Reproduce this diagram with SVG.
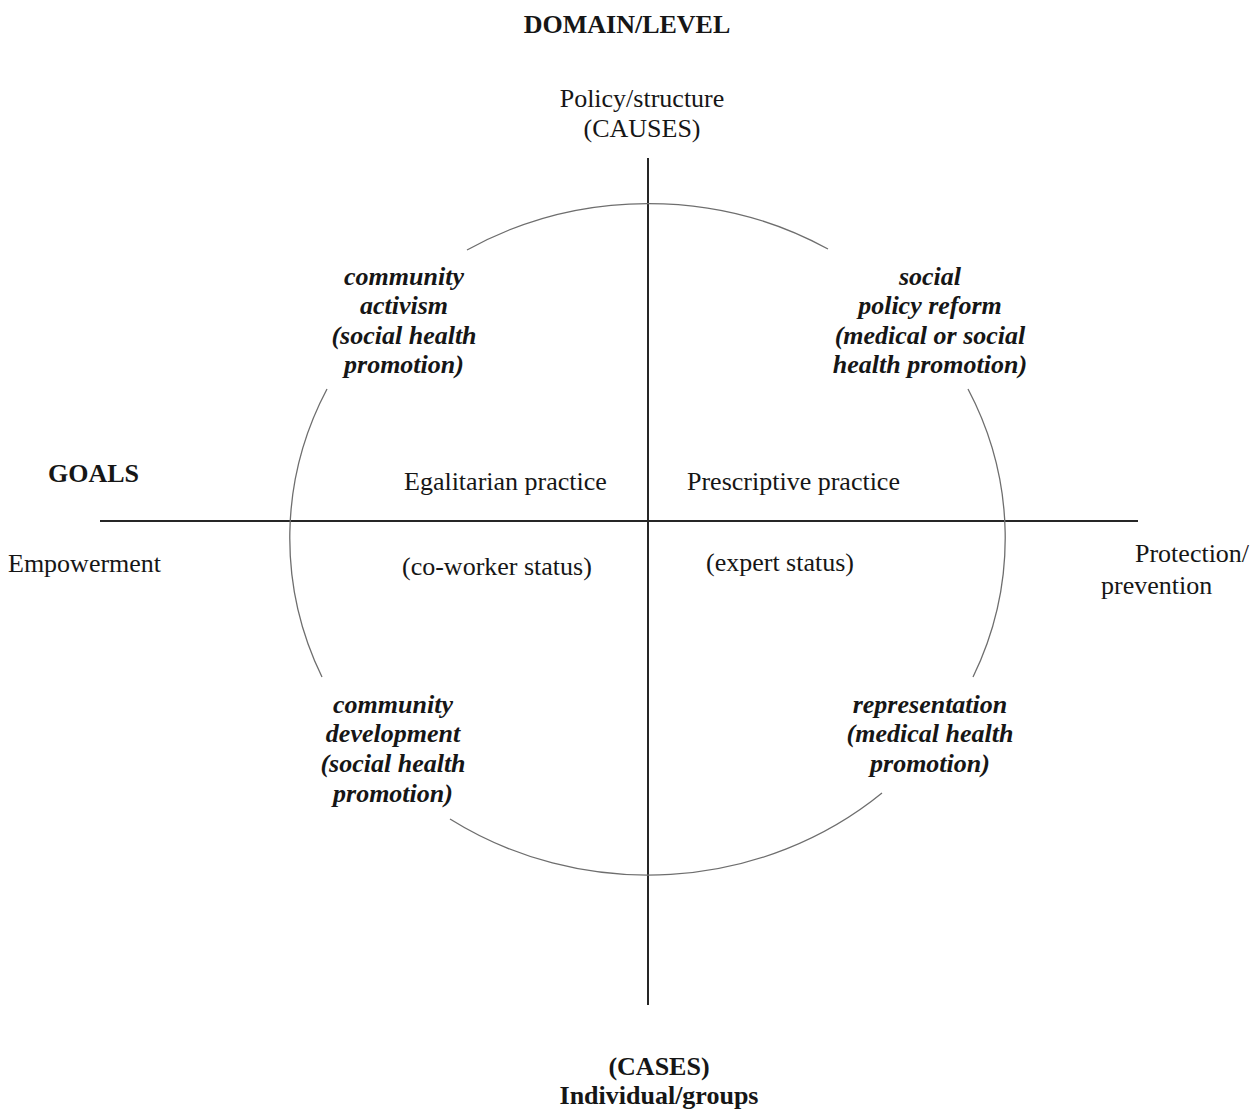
<svg xmlns="http://www.w3.org/2000/svg" width="1252" height="1111" viewBox="0 0 1252 1111">
  <style>
    text { font-family: "Liberation Serif", "Times New Roman", serif; font-size: 26px; fill: #161616; }
    .b { font-weight: bold; }
    .bi { font-weight: bold; font-style: italic; }
    .c { text-anchor: middle; }
    .axis { stroke: #262626; stroke-width: 2; fill: none; }
    .arc { stroke: #6e6e6e; stroke-width: 1.3; fill: none; }
  </style>
  <rect width="1252" height="1111" fill="#ffffff"/>

  <!-- axes and the broken circle -->
  <g id="connectors">
    <line class="axis" x1="648" y1="158" x2="648" y2="1005"/>
    <line class="axis" x1="100" y1="521" x2="1138" y2="521"/>
    <path class="arc" d="M467,250 A357,335 0 0,1 828,249"/>
    <path class="arc" d="M327,389 A357,335 0 0,0 322,677"/>
    <path class="arc" d="M968,389 A357,335 0 0,1 973,677"/>
    <path class="arc" d="M450,819 A357,335 0 0,0 882,793"/>
  </g>

  <g id="domain-title">
    <text class="b c" x="627" y="33">DOMAIN/LEVEL</text>
  </g>
  <g id="policy-structure">
    <text class="c" x="642" y="107">Policy/structure</text>
    <text class="c" x="642" y="137">(CAUSES)</text>
  </g>
  <g id="individual-groups">
    <text class="b c" x="659" y="1075">(CASES)</text>
    <text class="b c" x="659" y="1104">Individual/groups</text>
  </g>
  <g id="goals-title">
    <text class="b" x="48" y="482">GOALS</text>
  </g>
  <g id="empowerment">
    <text x="8" y="572">Empowerment</text>
  </g>
  <g id="protection-prevention">
    <text x="1135" y="562">Protection/</text>
    <text x="1101" y="594">prevention</text>
  </g>
  <g id="egalitarian-practice">
    <text x="404" y="490">Egalitarian practice</text>
    <text x="402" y="575">(co-worker status)</text>
  </g>
  <g id="prescriptive-practice">
    <text x="687" y="490">Prescriptive practice</text>
    <text x="706" y="571">(expert status)</text>
  </g>
  <g id="community-activism">
    <text class="bi c" x="404" y="285">community</text>
    <text class="bi c" x="404" y="314">activism</text>
    <text class="bi c" x="404" y="344">(social health</text>
    <text class="bi c" x="404" y="373">promotion)</text>
  </g>
  <g id="social-policy-reform">
    <text class="bi c" x="930" y="285">social</text>
    <text class="bi c" x="930" y="314">policy reform</text>
    <text class="bi c" x="930" y="344">(medical or social</text>
    <text class="bi c" x="930" y="373">health promotion)</text>
  </g>
  <g id="community-development">
    <text class="bi c" x="393" y="713">community</text>
    <text class="bi c" x="393" y="742">development</text>
    <text class="bi c" x="393" y="772">(social health</text>
    <text class="bi c" x="393" y="802">promotion)</text>
  </g>
  <g id="representation">
    <text class="bi c" x="930" y="713">representation</text>
    <text class="bi c" x="930" y="742">(medical health</text>
    <text class="bi c" x="930" y="772">promotion)</text>
  </g>
</svg>
